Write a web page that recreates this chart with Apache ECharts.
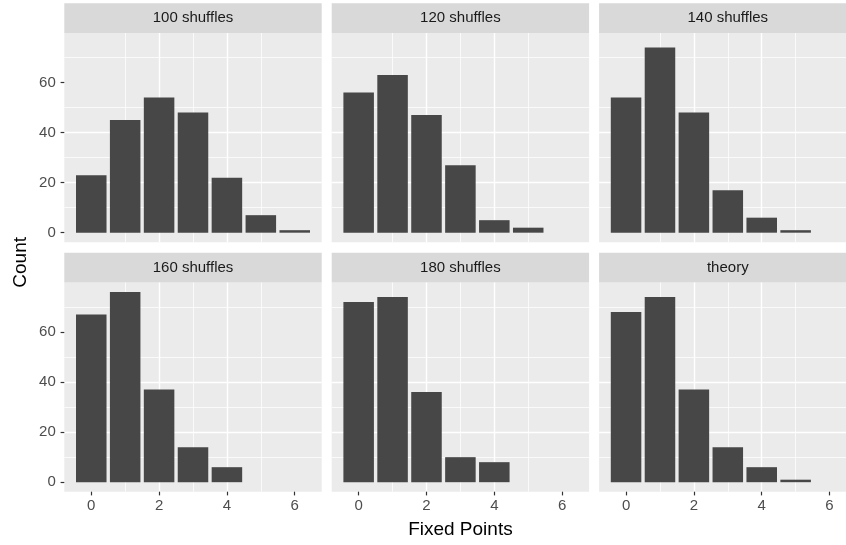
<!DOCTYPE html>
<html>
<head>
<meta charset="utf-8">
<script src="https://cdn.jsdelivr.net/npm/echarts@6/dist/echarts.min.js"></script>
<style>html,body{margin:0;padding:0;background:#fff;overflow:hidden}#c{width:858px;height:545px}</style>
</head>
<body>
<div id="c"></div>
<script>
const facets = ['100 shuffles', '120 shuffles', '140 shuffles', '160 shuffles', '180 shuffles', 'theory'];
const fixedPoints = [0, 1, 2, 3, 4, 5, 6];
const counts100 = [23, 45, 54, 48, 22, 7, 1];
const counts120 = [56, 63, 47, 27, 5, 2];
const counts140 = [54, 74, 48, 17, 6, 1];
const counts160 = [67, 76, 37, 14, 6];
const counts180 = [72, 74, 36, 10, 8];
const countsTheory = [68, 74, 37, 14, 6, 1];
const xTickLabels = [0, 2, 4, 6];
const yTickLabels = [0, 20, 40, 60];
const xTitle = 'Fixed Points';
const yTitle = 'Count';

const allCounts = [counts100, counts120, counts140, counts160, counts180, countsTheory];

const FONT = '"Liberation Sans", Arial, sans-serif';
const colLeft = [64.3, 331.7, 599.1];
const panelW = 257.4;
const rowTop = [33, 282.5];
const panelH = 209.2;
const stripH = 29.8;

const grids = [], xAxes = [], yAxes = [], series = [], graphics = [];
facets.forEach((name, i) => {
  const r = Math.floor(i / 3), c = i % 3;
  grids.push({
    left: colLeft[c], top: rowTop[r], width: panelW, height: panelH,
    show: true, backgroundColor: '#EBEBEB', borderWidth: 0, containLabel: false
  });
  xAxes.push({
    type: 'value', gridIndex: i, min: -0.795, max: 6.795, splitNumber: 4, position: 'bottom',
    axisLine: { show: false, onZero: false },
    axisTick: { show: r === 1, customValues: xTickLabels, length: 3.7, lineStyle: { color: '#333333', width: 1.2 } },
    axisLabel: { show: r === 1, customValues: xTickLabels, color: '#4D4D4D', fontSize: 15, fontFamily: FONT, margin: 7 },
    splitLine: { show: true, showMinLine: false, showMaxLine: false, lineStyle: { color: '#FFFFFF', width: 1.4 } },
    minorTick: { show: false, splitNumber: 2 },
    minorSplitLine: { show: true, lineStyle: { color: '#FFFFFF', width: 0.75 } }
  });
  yAxes.push({
    type: 'value', gridIndex: i, min: -3.8, max: 79.8, splitNumber: 4, position: 'left',
    axisLine: { show: false, onZero: false },
    axisTick: { show: c === 0, customValues: yTickLabels, length: 3.7, lineStyle: { color: '#333333', width: 1.2 } },
    axisLabel: { show: c === 0, customValues: yTickLabels, color: '#4D4D4D', fontSize: 15, fontFamily: FONT, margin: 8.5 },
    splitLine: { show: true, showMinLine: false, showMaxLine: false, lineStyle: { color: '#FFFFFF', width: 1.4 } },
    minorTick: { show: false, splitNumber: 2 },
    minorSplitLine: { show: true, lineStyle: { color: '#FFFFFF', width: 0.75 } }
  });
  const vals = allCounts[i];
  series.push({
    type: 'bar', xAxisIndex: i, yAxisIndex: i,
    data: vals.map((v, k) => [fixedPoints[k], v]),
    barWidth: '90%',
    itemStyle: { color: '#474747' },
    silent: true, animation: false
  });
  graphics.push({
    type: 'rect', shape: { x: colLeft[c], y: rowTop[r] - stripH, width: panelW, height: stripH },
    style: { fill: '#D9D9D9' }, silent: true
  });
  graphics.push({
    type: 'text', x: colLeft[c] + panelW / 2, y: rowTop[r] - stripH / 2,
    style: { text: name, fill: '#1A1A1A', font: '15px ' + FONT, textAlign: 'center', textVerticalAlign: 'middle' },
    silent: true
  });
});
graphics.push({
  type: 'text', x: (colLeft[0] + colLeft[2] + panelW) / 2, y: 530,
  style: { text: xTitle, fill: '#000000', font: '19px ' + FONT, textAlign: 'center', textVerticalAlign: 'middle' }
});
graphics.push({
  type: 'text', x: 21, y: (rowTop[0] + rowTop[1] + panelH) / 2, rotation: Math.PI / 2,
  style: { text: yTitle, fill: '#000000', font: '19px ' + FONT, textAlign: 'center', textVerticalAlign: 'middle' }
});

const chart = echarts.init(document.getElementById('c'), null, { renderer: 'canvas', width: 858, height: 545 });
chart.setOption({
  animation: false,
  backgroundColor: '#FFFFFF',
  grid: grids, xAxis: xAxes, yAxis: yAxes, series: series, graphic: graphics
});
</script>
</body>
</html>
